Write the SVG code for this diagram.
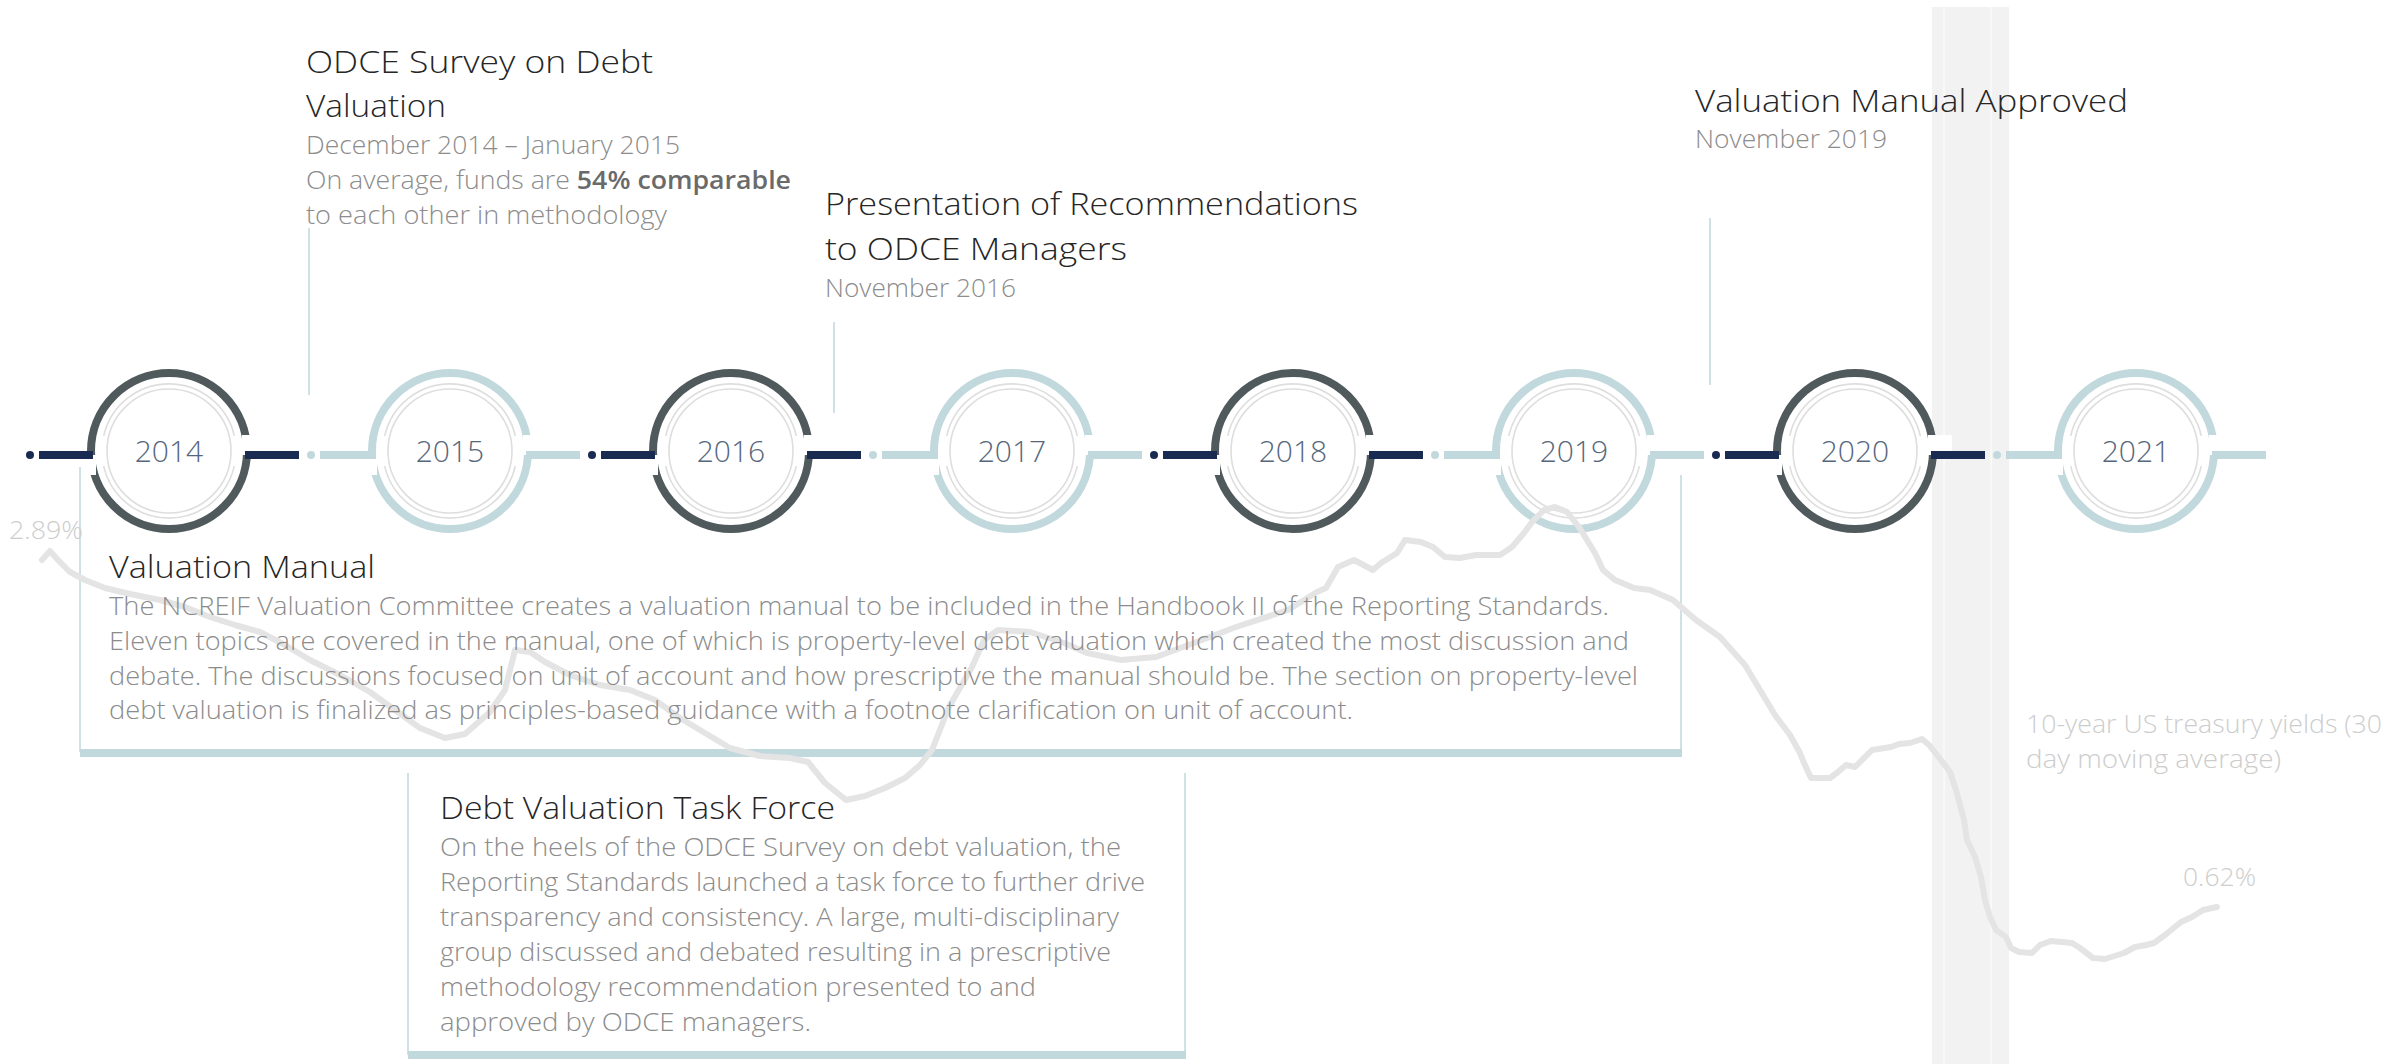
<svg xmlns="http://www.w3.org/2000/svg" width="2397" height="1064" viewBox="0 0 2397 1064">
<style>
text { font-family: "Open Sans", "Noto Sans", "Liberation Sans", sans-serif; font-weight: 300; }
.title { font-size: 32px; fill: #262626; }
.sub { font-size: 26px; fill: #8c8c8c; }
.bold { font-weight: 600; fill: #6a6a6a; }
.year { font-size: 30px; fill: #56677d; text-anchor: middle; }
.clbl { font-size: 26px; fill: #cdcdcd; }
.ringD { fill: none; stroke: #505a5d; stroke-width: 8; }
.ringL { fill: none; stroke: #c1d9dd; stroke-width: 8; }
.thin { fill: none; stroke: #dedede; stroke-width: 1.6; }
.barD { fill: #1a2b52; }
.barL { fill: #c1d9dd; }
.conn { stroke: #c3dadf; stroke-width: 1.6; fill: none; }
.chart { fill: none; stroke: #e4e4e4; stroke-width: 6; stroke-linejoin: round; stroke-linecap: round; }
</style>
<defs>
  <g id="ringDark">
    <circle r="78" class="ringD"/>
    <rect x="73" y="-16" width="24" height="20" fill="#fff"/>
    <rect x="-97" y="4" width="24" height="20" fill="#fff"/>
    <path class="thin" d="M-65.3 -15.1 A67 67 0 0 1 65.3 -15.1 M65.3 15.1 A67 67 0 0 1 -65.3 15.1"/>
    <circle r="62" class="thin"/>
  </g>
  <g id="ringLight">
    <circle r="78" class="ringL"/>
    <rect x="73" y="-16" width="24" height="20" fill="#fff"/>
    <rect x="-97" y="4" width="24" height="20" fill="#fff"/>
    <path class="thin" d="M-65.3 -15.1 A67 67 0 0 1 65.3 -15.1 M65.3 15.1 A67 67 0 0 1 -65.3 15.1"/>
    <circle r="62" class="thin"/>
  </g>
</defs>
<rect width="2397" height="1064" fill="#fff"/>

<g id="covid-band">
  <rect x="1932" y="7" width="77" height="1057" fill="#f2f2f2"/>
  <line x1="1944" y1="7" x2="1944" y2="1064" stroke="#fff" stroke-width="1"/>
  <line x1="1991" y1="7" x2="1991" y2="1064" stroke="#fff" stroke-width="1"/>
</g>

<g id="node-2014"><use href="#ringDark" x="169" y="451"/><text class="year" x="169" y="462">2014</text></g>
<g id="node-2015"><use href="#ringLight" x="450" y="451"/><text class="year" x="450" y="462">2015</text></g>
<g id="node-2016"><use href="#ringDark" x="731" y="451"/><text class="year" x="731" y="462">2016</text></g>
<g id="node-2017"><use href="#ringLight" x="1012" y="451"/><text class="year" x="1012" y="462">2017</text></g>
<g id="node-2018"><use href="#ringDark" x="1293" y="451"/><text class="year" x="1293" y="462">2018</text></g>
<g id="node-2019"><use href="#ringLight" x="1574" y="451"/><text class="year" x="1574" y="462">2019</text></g>
<g id="node-2020"><use href="#ringDark" x="1855" y="451"/><text class="year" x="1855" y="462">2020</text></g>
<g id="node-2021"><use href="#ringLight" x="2136" y="451"/><text class="year" x="2136" y="462">2021</text></g>

<g id="connectors">
  <circle cx="30" cy="455" r="4" fill="#1a2b52"/>
  <rect class="barD" x="39" y="451" width="54" height="8"/>
  <rect class="barD" x="245" y="451" width="54" height="8"/>
  <circle cx="311" cy="455" r="4" fill="#c1d9dd"/>
  <rect class="barL" x="320" y="451" width="56" height="8"/>
  <rect class="barL" x="526" y="451" width="54" height="8"/>
  <circle cx="592" cy="455" r="4" fill="#1a2b52"/>
  <rect class="barD" x="601" y="451" width="54" height="8"/>
  <rect class="barD" x="807" y="451" width="54" height="8"/>
  <circle cx="873" cy="455" r="4" fill="#c1d9dd"/>
  <rect class="barL" x="882" y="451" width="56" height="8"/>
  <rect class="barL" x="1088" y="451" width="54" height="8"/>
  <circle cx="1154" cy="455" r="4" fill="#1a2b52"/>
  <rect class="barD" x="1163" y="451" width="54" height="8"/>
  <rect class="barD" x="1369" y="451" width="54" height="8"/>
  <circle cx="1435" cy="455" r="4" fill="#c1d9dd"/>
  <rect class="barL" x="1444" y="451" width="56" height="8"/>
  <rect class="barL" x="1650" y="451" width="54" height="8"/>
  <circle cx="1716" cy="455" r="4" fill="#1a2b52"/>
  <rect class="barD" x="1725" y="451" width="54" height="8"/>
  <rect class="barD" x="1931" y="451" width="54" height="8"/>
  <circle cx="1997" cy="455" r="4" fill="#c1d9dd"/>
  <rect class="barL" x="2006" y="451" width="56" height="8"/>
  <rect class="barL" x="2212" y="451" width="54" height="8"/>

  <line class="conn" x1="309" y1="228" x2="309" y2="395"/>
  <line class="conn" x1="834" y1="322" x2="834" y2="413"/>
  <line class="conn" x1="1710" y1="218" x2="1710" y2="385"/>
  <line class="conn" x1="80" y1="467" x2="80" y2="752"/>
  <line class="conn" x1="1681" y1="475" x2="1681" y2="752"/>
  <rect class="barL" x="80" y="749" width="1602" height="8"/>
  <line class="conn" x1="408" y1="773" x2="408" y2="1055"/>
  <line class="conn" x1="1185" y1="773" x2="1185" y2="1055"/>
  <rect class="barL" x="408" y="1051" width="778" height="8"/>
</g>

<g id="yield-chart">
  <polyline class="chart" points="42,560 50,551 58,560 70,572 85,580 105,588 130,594 160,600 185,607 210,617 235,625 260,632 285,645 310,660 340,675 370,692 395,710 420,728 445,738 465,734 490,712 505,690 515,650 530,652 545,662 570,675 600,685 630,690 655,700 680,718 705,733 730,748 760,756 790,758 808,762 825,783 846,800 865,796 885,788 905,778 920,765 932,750 949,707 972,667 984,640 998,630 1030,632 1064,643 1087,653 1121,660 1156,657 1202,640 1236,627 1288,610 1317,592 1326,588 1338,567 1354,560 1373,570 1381,563 1397,553 1405,540 1421,542 1433,547 1445,557 1460,558 1476,555 1500,555 1512,547 1524,533 1532,522 1544,510 1555,507 1567,512 1579,527 1587,540 1595,553 1603,570 1615,580 1634,588 1650,590 1673,600 1696,620 1720,637 1745,665 1760,690 1775,715 1790,735 1800,753 1804,763 1811,778 1830,778 1838,772 1846,765 1855,767 1872,750 1891,747 1899,744 1910,743 1922,739 1929,745 1941,760 1950,772 1956,790 1964,820 1967,840 1975,857 1981,877 1985,900 1990,917 1996,930 2006,937 2011,948 2019,952 2032,953 2040,945 2051,941 2072,943 2080,948 2093,958 2105,959 2124,953 2135,947 2146,945 2154,943 2165,935 2181,922 2192,917 2203,910 2217,907"/>
  <text class="clbl" x="9" y="539" textLength="74" lengthAdjust="spacingAndGlyphs">2.89%</text>
  <text class="clbl" x="2026" y="733" textLength="356" lengthAdjust="spacingAndGlyphs">10-year US treasury yields (30</text>
  <text class="clbl" x="2026" y="768" textLength="255" lengthAdjust="spacingAndGlyphs">day moving average)</text>
  <text class="clbl" x="2183" y="886" textLength="73" lengthAdjust="spacingAndGlyphs">0.62%</text>
</g>

<g id="event-odce-survey">
  <text class="title" x="306" y="73" textLength="347" lengthAdjust="spacingAndGlyphs">ODCE Survey on Debt</text>
  <text class="title" x="306" y="117" textLength="140" lengthAdjust="spacingAndGlyphs">Valuation</text>
  <text class="sub" x="306" y="154" textLength="374" lengthAdjust="spacingAndGlyphs">December 2014 – January 2015</text>
  <text class="sub" x="306" y="189" textLength="485" lengthAdjust="spacingAndGlyphs">On average, funds are <tspan class="bold">54% comparable</tspan></text>
  <text class="sub" x="306" y="224" textLength="361" lengthAdjust="spacingAndGlyphs">to each other in methodology</text>
</g>

<g id="event-presentation">
  <text class="title" x="825" y="215" textLength="533" lengthAdjust="spacingAndGlyphs">Presentation of Recommendations</text>
  <text class="title" x="825" y="260" textLength="302" lengthAdjust="spacingAndGlyphs">to ODCE Managers</text>
  <text class="sub" x="825" y="297" textLength="191" lengthAdjust="spacingAndGlyphs">November 2016</text>
</g>

<g id="event-manual-approved">
  <text class="title" x="1695" y="112" textLength="433" lengthAdjust="spacingAndGlyphs">Valuation Manual Approved</text>
  <text class="sub" x="1695" y="148" textLength="192" lengthAdjust="spacingAndGlyphs">November 2019</text>
</g>

<g id="event-valuation-manual">
  <text class="title" x="109" y="578" textLength="266" lengthAdjust="spacingAndGlyphs">Valuation Manual</text>
  <text class="sub" x="109" y="615" textLength="1500" lengthAdjust="spacingAndGlyphs">The NCREIF Valuation Committee creates a valuation manual to be included in the Handbook II of the Reporting Standards.</text>
  <text class="sub" x="109" y="650" textLength="1520" lengthAdjust="spacingAndGlyphs">Eleven topics are covered in the manual, one of which is property-level debt valuation which created the most discussion and</text>
  <text class="sub" x="109" y="685" textLength="1529" lengthAdjust="spacingAndGlyphs">debate. The discussions focused on unit of account and how prescriptive the manual should be. The section on property-level</text>
  <text class="sub" x="109" y="719" textLength="1244" lengthAdjust="spacingAndGlyphs">debt valuation is finalized as principles-based guidance with a footnote clarification on unit of account.</text>
</g>

<g id="event-task-force">
  <text class="title" x="440" y="819" textLength="395" lengthAdjust="spacingAndGlyphs">Debt Valuation Task Force</text>
  <text class="sub" x="440" y="856" textLength="681" lengthAdjust="spacingAndGlyphs">On the heels of the ODCE Survey on debt valuation, the</text>
  <text class="sub" x="440" y="891" textLength="705" lengthAdjust="spacingAndGlyphs">Reporting Standards launched a task force to further drive</text>
  <text class="sub" x="440" y="926" textLength="679" lengthAdjust="spacingAndGlyphs">transparency and consistency. A large, multi-disciplinary</text>
  <text class="sub" x="440" y="961" textLength="671" lengthAdjust="spacingAndGlyphs">group discussed and debated resulting in a prescriptive</text>
  <text class="sub" x="440" y="996" textLength="596" lengthAdjust="spacingAndGlyphs">methodology recommendation presented to and</text>
  <text class="sub" x="440" y="1031" textLength="371" lengthAdjust="spacingAndGlyphs">approved by ODCE managers.</text>
</g>
</svg>
